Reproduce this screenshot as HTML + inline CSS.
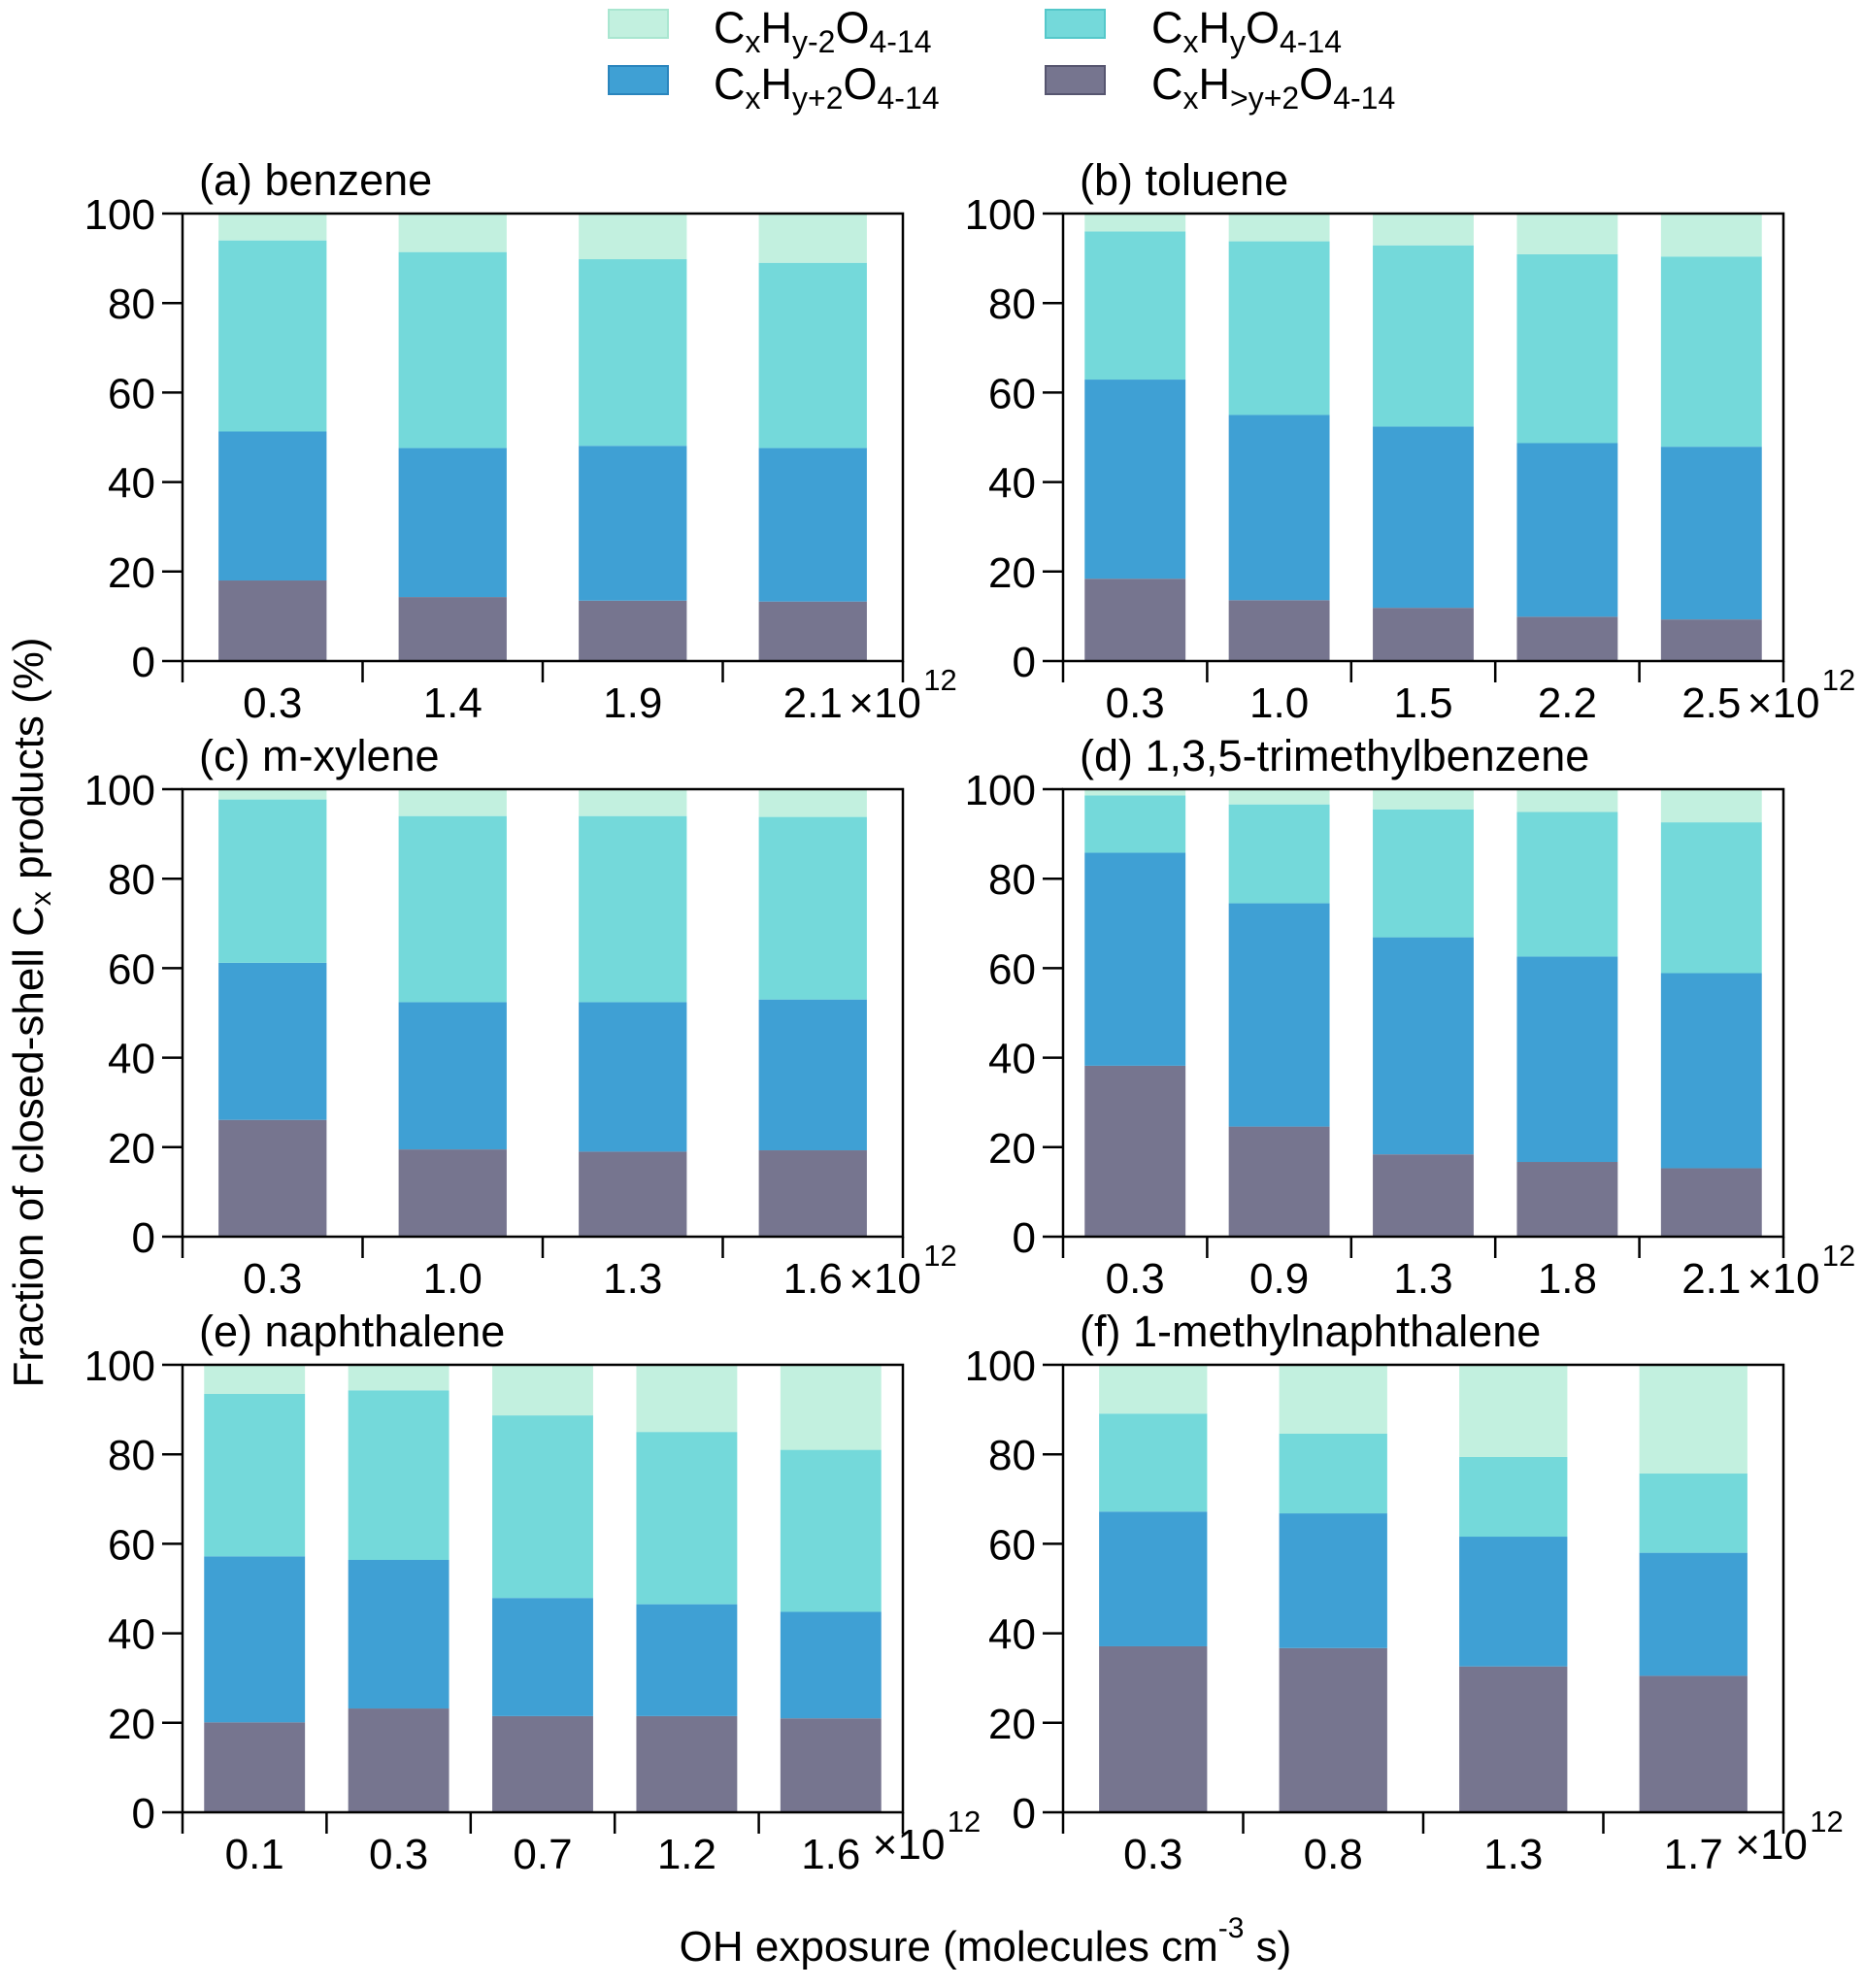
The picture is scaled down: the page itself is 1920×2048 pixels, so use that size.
<!DOCTYPE html>
<html><head><meta charset="utf-8"><style>
html,body{margin:0;padding:0;background:#fff;}
svg{display:block;font-family:"Liberation Sans",sans-serif;}
</style></head><body>
<svg id="chart" width="1920" height="2048" viewBox="0 0 1920 2048" xmlns="http://www.w3.org/2000/svg">
<g font-size="45">
 <rect x="627" y="10" width="61" height="29" fill="#c2f0df" stroke="#a9e6d0" stroke-width="2"/>
 <text x="735" y="44">C<tspan font-size="32" dy="10">x</tspan><tspan dy="-10">H</tspan><tspan font-size="32" dy="10">y-2</tspan><tspan dy="-10">O</tspan><tspan font-size="32" dy="10">4-14</tspan></text>
 <rect x="1077" y="10" width="61" height="29" fill="#74d9da" stroke="#55c8ca" stroke-width="2"/>
 <text x="1186" y="44">C<tspan font-size="32" dy="10">x</tspan><tspan dy="-10">H</tspan><tspan font-size="32" dy="10">y</tspan><tspan dy="-10">O</tspan><tspan font-size="32" dy="10">4-14</tspan></text>
 <rect x="627" y="68" width="61" height="29" fill="#3fa0d4" stroke="#2a85bd" stroke-width="2"/>
 <text x="735" y="102">C<tspan font-size="32" dy="10">x</tspan><tspan dy="-10">H</tspan><tspan font-size="32" dy="10">y+2</tspan><tspan dy="-10">O</tspan><tspan font-size="32" dy="10">4-14</tspan></text>
 <rect x="1077" y="68" width="61" height="29" fill="#76758f" stroke="#56556f" stroke-width="2"/>
 <text x="1186" y="102">C<tspan font-size="32" dy="10">x</tspan><tspan dy="-10">H</tspan><tspan font-size="32" dy="10">&gt;y+2</tspan><tspan dy="-10">O</tspan><tspan font-size="32" dy="10">4-14</tspan></text>
</g>
<text font-size="44" text-anchor="middle" transform="translate(44,1043) rotate(-90)">Fraction of closed-shell C<tspan font-size="30" dy="8">x</tspan><tspan dy="-8"> products (%)</tspan></text>
<text font-size="44" text-anchor="middle" x="1015" y="2020">OH exposure (molecules cm<tspan font-size="30" dy="-24">-3</tspan><tspan dy="24"> s)</tspan></text>
<g id="panels"></g>
</svg>
<script>
const titles = ["(a) benzene","(b) toluene","(c) m-xylene","(d) 1,3,5-trimethylbenzene","(e) naphthalene","(f) 1-methylnaphthalene"];
const categoriesA = ["0.3","1.4","1.9","2.1"];
const categoriesB = ["0.3","1.0","1.5","2.2","2.5"];
const categoriesC = ["0.3","1.0","1.3","1.6"];
const categoriesD = ["0.3","0.9","1.3","1.8","2.1"];
const categoriesE = ["0.1","0.3","0.7","1.2","1.6"];
const categoriesF = ["0.3","0.8","1.3","1.7"];
// series per panel: gray (CxH>y+2), blue (CxHy+2), turquoise (CxHy), mint (CxHy-2)
const grayA=[18,14.3,13.5,13.3], blueA=[33.3,33.3,34.6,34.3], turqA=[42.7,43.8,41.7,41.4], mintA=[6,8.6,10.2,11];
const grayB=[18.4,13.6,11.9,9.9,9.3], blueB=[44.5,41.4,40.5,38.8,38.6], turqB=[33.1,38.8,40.5,42.2,42.5], mintB=[4,6.2,7.1,9.1,9.6];
const grayC=[26.1,19.5,19,19.3], blueC=[35.1,32.9,33.4,33.7], turqC=[36.5,41.6,41.6,40.8], mintC=[2.3,6,6,6.2];
const grayD=[38.2,24.6,18.4,16.7,15.3], blueD=[47.6,49.9,48.5,45.9,43.6], turqD=[12.8,22.1,28.6,32.3,33.7], mintD=[1.4,3.4,4.5,5.1,7.4];
const grayE=[20.1,23.2,21.5,21.5,21], blueE=[37.1,33.2,26.4,25,23.8], turqE=[36.3,37.9,40.8,38.5,36.2], mintE=[6.5,5.7,11.3,15,19];
const grayF=[37.1,36.7,32.6,30.5], blueF=[30.1,30.1,29,27.5], turqF=[21.9,17.8,17.8,17.7], mintF=[10.9,15.4,20.6,24.3];
const yTicks=[0,20,40,60,80,100];

const panelCats=[categoriesA,categoriesB,categoriesC,categoriesD,categoriesE,categoriesF];
const panelSeries=[[grayA,blueA,turqA,mintA],[grayB,blueB,turqB,mintB],[grayC,blueC,turqC,mintC],[grayD,blueD,turqD,mintD],[grayE,blueE,turqE,mintE],[grayF,blueF,turqF,mintF]];
const seriesNames=["cxh>y+2","cxhy+2","cxhy","cxhy-2"];
const colors=["#76758f","#3fa0d4","#74d9da","#c2f0df"];
const NS="http://www.w3.org/2000/svg";
const root=document.getElementById('panels');
function mk(tag,attrs,parent){const e=document.createElementNS(NS,tag);for(const k in attrs)e.setAttribute(k,attrs[k]);parent.appendChild(e);return e;}
const lefts=[188,1095], tops=[220,813,1406], W=742, H=461;
for(let p=0;p<6;p++){
  const L=lefts[p%2], T=tops[Math.floor(p/2)], B=T+H, R=L+W;
  const cats=panelCats[p], ser=panelSeries[p], n=cats.length;
  const g=mk('g',{},root);
  
  
  const band=W/n, bw=band*(n===4?0.6:0.7);
  const y=v=>B-v/100*H;
  const xc=i=>L+band*(i+0.5);
  for(let i=0;i<n;i++){
    let acc=0;
    for(let s=0;s<4;s++){
      const v=ser[s][i];
      const r=mk('rect',{x:xc(i)-bw/2,y:y(acc+v),width:bw,height:y(acc)-y(acc+v),fill:colors[s]},g);
      
      
      acc+=v;
    }
  }
  const frame=mk('rect',{x:L,y:T,width:W,height:H,fill:'none',stroke:'#000','stroke-width':2.5},g);
  
  
  for(const t of yTicks){
    const ln=mk('line',{x1:L-21,x2:L,y1:y(t),y2:y(t),stroke:'#000','stroke-width':2.5},g);
    
    
    const tx=mk('text',{x:L-28,y:y(t)+16,'font-size':44,'text-anchor':'end'},g);
    tx.textContent=t;
    
    
  }
  for(let i=0;i<=n;i++){
    const ln=mk('line',{x1:L+band*i,x2:L+band*i,y1:B,y2:B+22,stroke:'#000','stroke-width':2.5},g);
    
    
  }
  for(let i=0;i<n;i++){
    const tx=mk('text',{x:xc(i),y:B+58,'font-size':44,'text-anchor':'middle'},g);
    tx.textContent=cats[i];
    
    
  }
  const raised=p>=4?10:0;
  const ex=mk('text',{x:xc(n-1)+37+(p>=4?6:0),y:B+58-raised,'font-size':44},g);
  ex.textContent='×10';
  
  
  const sup=mk('text',{x:xc(n-1)+37+(p>=4?6:0)+77,y:B+30-raised,'font-size':31},g);
  sup.textContent='12';
  
  
  const ti=mk('text',{x:L+17,y:T-19,'font-size':45},g);
  ti.textContent=titles[p];
  
  
}
</script>
</body></html>
